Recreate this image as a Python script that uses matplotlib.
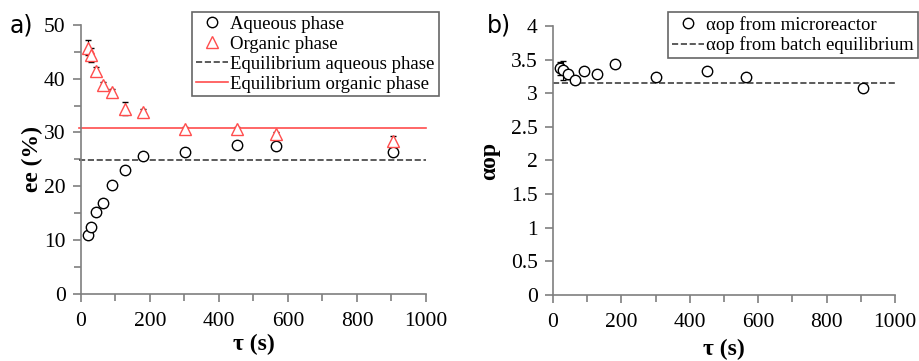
import numpy as np
import matplotlib.pyplot as plt

# residence time (s)
tau = [20, 30, 44, 64, 90, 129, 181, 301, 451, 565, 905]
# ee (%) aqueous and organic phase
ee_aq = [11.0, 12.4, 15.2, 16.9, 20.2, 23.0, 25.6, 26.3, 27.6, 27.4, 26.3]
ee_org = [45.8, 44.4, 41.4, 38.8, 37.5, 34.4, 33.8, 30.6, 30.7, 29.7, 28.5]
err_org = [1.4, 1.3, 0.7, 0.5, 0.6, 1.2, 0.5, 0.4, 0.4, 0.4, 0.9]
err_aq = [0.3, 0.3, 0.3, 0.3, 0.3, 0.3, 0.3, 0.3, 0.3, 0.3, 0.3]
eq_aq = 24.9
eq_org = 30.9
# alpha op
alpha = [3.37, 3.34, 3.28, 3.19, 3.33, 3.28, 3.43, 3.24, 3.33, 3.24, 3.08]
err_alpha = [0.10, 0.14, 0.07, 0.05, 0.03, 0.03, 0.03, 0.03, 0.03, 0.05, 0.03]
alpha_eq = 3.15

plt.rcParams['font.family'] = 'Liberation Serif'
plt.rcParams['font.size'] = 14
spine_col = '#7f7f7f'
red = '#ff4d4d'

fig = plt.figure(figsize=(9.19, 3.61), dpi=100)
ax1 = fig.add_axes([0.088, 0.186, 0.3755, 0.745])
ax2 = fig.add_axes([0.6017, 0.183, 0.3723, 0.745])

def style(ax):
    for s in ['top', 'right']:
        ax.spines[s].set_visible(False)
    for s in ['left', 'bottom']:
        ax.spines[s].set_color(spine_col)
        ax.spines[s].set_linewidth(1.2)
    ax.tick_params(which='both', direction='out', color=spine_col, width=1.2, labelsize=15.5)
    ax.tick_params(which='major', length=6)
    ax.tick_params(which='minor', length=5)
    ax.tick_params(axis='x', which='both', pad=7)
    ax.tick_params(axis='y', which='both', pad=5)
    ax.set_xlim(0, 1000)
    ax.set_xticks(np.arange(0, 1001, 200))
    ax.set_xticks(np.arange(100, 1000, 200), minor=True)
    ax.set_xlabel('τ (s)', fontweight='bold', fontsize=17, labelpad=2)

legend_kw = dict(frameon=True, fancybox=False, edgecolor='#404040', fontsize=13.5,
                 handlelength=1.7, handletextpad=0.15, borderpad=0.2,
                 labelspacing=0.15, borderaxespad=0)

# panel a
style(ax1)
ax1.errorbar(tau, ee_aq, yerr=err_aq, fmt='none', ecolor='black', elinewidth=0.8, capsize=2.5, zorder=2)
ax1.errorbar(tau, ee_org, yerr=err_org, fmt='none', ecolor='black', elinewidth=0.8, capsize=2.5, zorder=2)
ax1.plot(tau, ee_aq, 'o', mfc='white', mec='black', ms=7.5, mew=1.0, label='Aqueous phase', zorder=3)
ax1.plot(tau, ee_org, '^', mfc='white', mec=red, ms=8, mew=1.0, label='Organic phase', zorder=3)
ax1.plot([-6, 1000], [eq_aq, eq_aq], '--', color='#404040', lw=1.2, label='Equilibrium aqueous phase', clip_on=False)
ax1.plot([-6, 1000], [eq_org, eq_org], '-', color=red, lw=1.2, label='Equilibrium organic phase', clip_on=False)
ax1.set_ylim(0, 50)
ax1.set_yticks(np.arange(0, 51, 10))
ax1.set_yticks(np.arange(5, 50, 10), minor=True)
ax1.set_ylabel('ee (%)', fontweight='bold', fontsize=17, labelpad=1)
leg1 = ax1.legend(loc='upper left', bbox_to_anchor=(0.322, 1.048), **legend_kw)
leg1.get_frame().set_linewidth(1.2)
fig.text(0.01, 0.93, 'a)', fontsize=17, family='DejaVu Sans', va='center')

# panel b
style(ax2)
ax2.errorbar(tau, alpha, yerr=err_alpha, fmt='none', ecolor='black', elinewidth=0.8, capsize=2.5, zorder=2)
ax2.plot(tau, alpha, 'o', mfc='white', mec='black', ms=7.5, mew=1.0, label='αop from microreactor', zorder=3)
ax2.plot([0, 1000], [alpha_eq, alpha_eq], '--', color='#404040', lw=1.2, label='αop from batch equilibrium')
ax2.set_ylim(0, 4)
ax2.set_yticks(np.arange(0, 4.01, 0.5))
ax2.set_yticklabels(['0', '0.5', '1', '1.5', '2', '2.5', '3', '3.5', '4'])
ax2.set_ylabel('αop', fontweight='bold', fontsize=17, labelpad=8)
ax2.xaxis.labelpad = 5
leg2 = ax2.legend(loc='upper left', bbox_to_anchor=(0.336, 1.052), **legend_kw)
leg2.get_frame().set_linewidth(1.2)
fig.text(0.53, 0.93, 'b)', fontsize=17, family='DejaVu Sans', va='center')

fig.savefig('out.png', dpi=100)
